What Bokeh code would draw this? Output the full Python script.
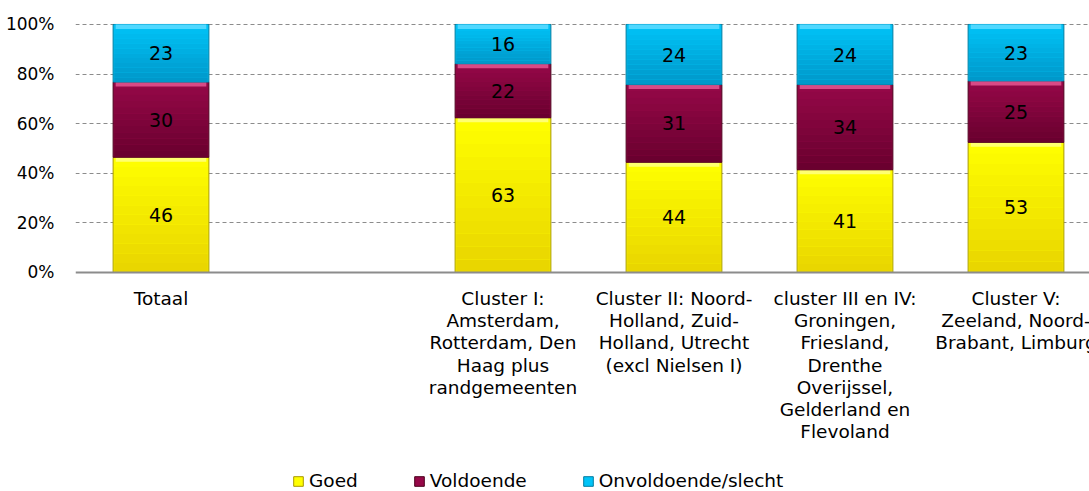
from bokeh.plotting import figure
from bokeh.models import Range1d, FixedTicker, Span, Legend, LegendItem, ColumnDataSource
from bokeh.core.properties import value
from bokeh.embed import file_html
from bokeh.resources import INLINE

categories = ["Totaal", "",
              "Cluster I:\nAmsterdam,\nRotterdam, Den\nHaag plus\nrandgemeenten",
              "Cluster II: Noord-\nHolland, Zuid-\nHolland, Utrecht\n(excl Nielsen I)",
              "cluster III en IV:\nGroningen,\nFriesland,\nDrenthe\nOverijssel,\nGelderland en\nFlevoland",
              "Cluster V:\nZeeland, Noord-\nBrabant, Limburg"]
goed = [46, None, 63, 44, 41, 53]
voldoende = [30, None, 22, 31, 34, 25]
onvoldoende = [23, None, 16, 24, 24, 23]
series_names = ["Goed", "Voldoende", "Onvoldoende/slecht"]
y_ticks = [0, 20, 40, 60, 80, 100]
y_tick_labels = ["0%", "20%", "40%", "60%", "80%", "100%"]

FONT = "DejaVu Sans"
# per series: (top colour, bottom colour, highlight, edge)
grad_top = [(255, 255, 0), (150, 8, 72), (0, 196, 248)]
grad_bot = [(232, 212, 0), (104, 0, 46), (0, 150, 200)]
highlight = ["#FFFF70", "#D84A86", "#50D8FF"]
edges = ["#A89800", "#4A001C", "#007CA0"]

def hexc(c):
    return "#%02X%02X%02X" % tuple(int(round(v)) for v in c)

p = figure(width=1089, height=491, output_backend="svg", toolbar_location=None,
           x_range=Range1d(0, (1089 - 75) / 171), y_range=Range1d(-88.3, 101.6),
           min_border_left=75, min_border_right=0, min_border_top=20, min_border_bottom=0)
p.outline_line_color = None
p.xaxis.visible = False
p.xgrid.visible = False
p.yaxis.ticker = FixedTicker(ticks=y_ticks)
p.yaxis.bounds = (0, 100)
p.yaxis.major_label_overrides = {t: l for t, l in zip(y_ticks, y_tick_labels)}
p.yaxis.axis_line_color = None
p.yaxis.major_tick_line_color = None
p.yaxis.minor_tick_line_color = None
p.yaxis.major_label_standoff = 15
p.yaxis.major_label_text_font = FONT
p.yaxis.major_label_text_font_size = "17px"
p.yaxis.major_label_text_color = "#000000"
p.ygrid.ticker = FixedTicker(ticks=[20, 40, 60, 80, 100])
p.ygrid.grid_line_color = "#8C8C8C"
p.ygrid.grid_line_dash = "4 3"
p.ygrid.grid_line_width = 1

xs, bots, tps, vals = [[], [], []], [[], [], []], [[], [], []], [[], [], []]
for i, (g, v, o) in enumerate(zip(goed, voldoende, onvoldoende)):
    if g is None:
        continue
    tot = g + v + o
    cum = 0.0
    for k, val in enumerate([g, v, o]):
        h = val / tot * 100
        xs[k].append(i + 0.5)
        bots[k].append(cum)
        tps[k].append(cum + h)
        vals[k].append(str(val))
        cum += h

W = 0.56
NS = 12
renderers = []
for k in range(3):
    src = ColumnDataSource(dict(x=xs[k], bottom=bots[k], top=tps[k], label=vals[k],
                                mid=[(b + t) / 2 for b, t in zip(bots[k], tps[k])],
                                hl_b=[t - 1.8 for t in tps[k]]))
    r = p.vbar(x="x", bottom="bottom", top="top", width=W, source=src,
               fill_color=hexc(grad_top[k]), line_color=edges[k], line_width=1)
    renderers.append(r)
    # vertical gradient inside each segment
    for j in range(NS):
        f = (j + 0.5) / NS
        col = [grad_bot[k][c] + (grad_top[k][c] - grad_bot[k][c]) * f for c in range(3)]
        sb = [b + (t - b) * j / NS for b, t in zip(bots[k], tps[k])]
        st = [b + (t - b) * (j + 1) / NS for b, t in zip(bots[k], tps[k])]
        p.vbar(x=xs[k], bottom=sb, top=st, width=W - 0.012, fill_color=hexc(col),
               line_color=None)
    p.vbar(x="x", bottom="hl_b", top="top", width=W - 0.03, source=src,
           fill_color=highlight[k], line_color=None)
    p.text(x="x", y="mid", text="label", source=src, text_align="center",
           text_baseline="middle", text_font=value(FONT), text_font_size="19px",
           text_color="#000000")

p.add_layout(Span(location=0, dimension="width", line_color="#8C8C8C", line_width=2))

lab_src = ColumnDataSource(dict(x=[i + 0.5 for i in range(len(categories))],
                                y=[-6.4] * len(categories), text=categories))
p.text(x="x", y="y", text="text", source=lab_src, text_align="center",
       text_baseline="top", text_font=value(FONT), text_font_size="18.5px",
       text_line_height=1.05, text_color="#000000")

legend = Legend(items=[LegendItem(label=n, renderers=[r]) for n, r in zip(series_names, renderers)],
                location=(217, 0), orientation="horizontal", glyph_width=12, glyph_height=12,
                label_standoff=5, spacing=55, padding=0, margin=0,
                border_line_color=None, background_fill_alpha=0,
                label_text_font=FONT, label_text_font_size="18.5px", label_text_color="#000000")
p.add_layout(legend)

open("out.html", "w").write(file_html(p, INLINE))
